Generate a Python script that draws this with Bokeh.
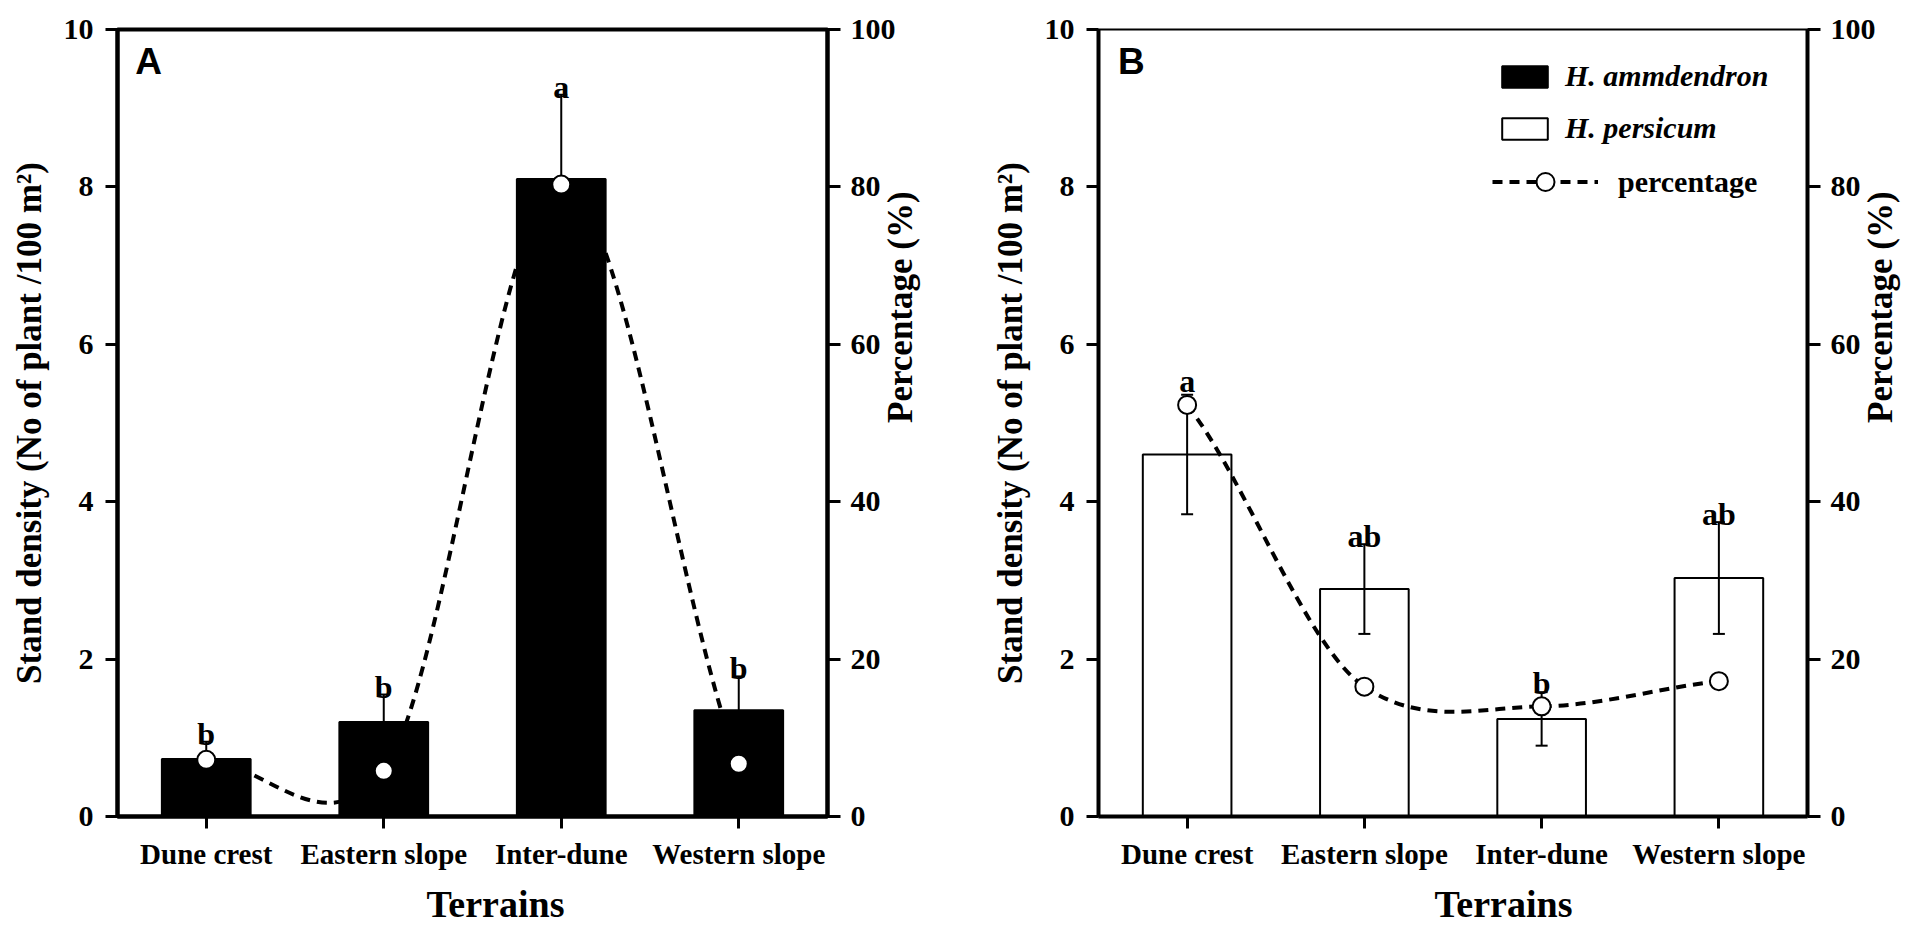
import math
from bokeh.plotting import figure
from bokeh.models import (FactorRange, Range1d, LinearAxis, FixedTicker, ColumnDataSource,
                          Whisker, TeeHead, Label, Legend, LegendItem, Title)
from bokeh.layouts import row
from bokeh.embed import file_html
from bokeh.resources import INLINE
from bokeh.core.properties import value

# ---------------- data ----------------
terrains = ["Dune crest", "Eastern slope", "Inter-dune", "Western slope"]

a_density = [0.73, 1.20, 8.10, 1.35]
a_se = [0.22, 0.35, 1.07, 0.43]
a_pct = [7.2, 5.8, 80.3, 6.7]
a_letters = ["b", "b", "a", "b"]

b_density = [4.60, 2.89, 1.24, 3.03]
b_se = [0.76, 0.57, 0.34, 0.71]
b_pct = [52.3, 16.5, 14.0, 17.2]
b_letters = ["a", "ab", "b", "ab"]

left_ticks = [0, 2, 4, 6, 8, 10]
right_ticks = [0, 20, 40, 60, 80, 100]

SERIF = "Liberation Serif"
SANS = "Liberation Sans"
TENSION = 0.8  # tangent scale of the smoothing curve


def spline_segments(vals):
    """Cubic Bezier segments of a cardinal spline through the points
    (factor synthetic coordinate i+0.5, value)."""
    n = len(vals)
    xs = [i + 0.5 for i in range(n)]
    m = []
    for i in range(n):
        if i == 0:
            m.append(TENSION * (vals[1] - vals[0]))
        elif i == n - 1:
            m.append(TENSION * (vals[-1] - vals[-2]))
        else:
            m.append(TENSION * (vals[i + 1] - vals[i - 1]) / 2.0)
    d = dict(x0=[], y0=[], x1=[], y1=[], cx0=[], cy0=[], cx1=[], cy1=[])
    for i in range(n - 1):
        d["x0"].append(xs[i]); d["y0"].append(vals[i])
        d["x1"].append(xs[i + 1]); d["y1"].append(vals[i + 1])
        d["cx0"].append(xs[i] + 1 / 3); d["cy0"].append(vals[i] + m[i] / 3)
        d["cx1"].append(xs[i + 1] - 1 / 3); d["cy1"].append(vals[i + 1] - m[i + 1] / 3)
    return d


def style_axis(ax, tick_out, standoff, size):
    ax.axis_line_width = 4
    ax.axis_line_color = "black"
    ax.major_tick_line_width = 3
    ax.major_tick_line_color = "black"
    ax.major_tick_out = tick_out
    ax.major_tick_in = 0
    ax.minor_tick_line_color = None
    ax.major_label_text_font = SERIF
    ax.major_label_text_font_style = "bold"
    ax.major_label_text_font_size = size
    ax.major_label_text_color = "black"
    ax.major_label_standoff = standoff
    ax.axis_label_text_font = SERIF
    ax.axis_label_text_font_style = "bold"
    ax.axis_label_text_font_size = "35px"
    ax.axis_label_text_color = "black"


def make_panel(density, se, pct, letters, tag, filled, width, bl, br,
               outline_w, terr_offset, tag_x):
    p = figure(x_range=FactorRange(factors=terrains), y_range=Range1d(0, 10),
               width=width, height=932, output_backend="svg", toolbar_location=None,
               min_border_left=bl, min_border_right=br,
               min_border_top=29, min_border_bottom=114)
    p.extra_y_ranges = {"pct": Range1d(0, 100)}
    p.xgrid.grid_line_color = None
    p.ygrid.grid_line_color = None
    p.outline_line_color = "black"
    p.outline_line_width = outline_w
    p.background_fill_color = "white"
    p.border_fill_color = "white"

    # x axis
    xa = p.xaxis[0]
    style_axis(xa, 12, 9, "29px")

    # left axis
    ya = p.yaxis[0]
    ya.ticker = FixedTicker(ticks=left_ticks)
    style_axis(ya, 12, 12, "30px")
    ya.axis_label = "Stand density (No of plant /100 m²)"
    ya.axis_label_standoff = 12

    # right axis
    ra = LinearAxis(y_range_name="pct", ticker=FixedTicker(ticks=right_ticks))
    style_axis(ra, 13, 10, "30px")
    ra.axis_label = "Percentage (%)"
    ra.axis_label_standoff = 2
    try:
        ra.axis_label_orientation = math.pi / 2
    except Exception:
        pass
    p.add_layout(ra, "right")

    # x axis title, placed a little right of centre as in the original
    p.add_layout(Title(text="Terrains", align="left", offset=terr_offset,
                       text_font=SERIF, text_font_style="bold", text_font_size="38px",
                       text_color="black", standoff=16), "below")

    upper = [d + s for d, s in zip(density, se)]
    lower = [d - s for d, s in zip(density, se)]
    label_y = [max(u, v / 10 + 0.2) for u, v in zip(upper, pct)]
    src = ColumnDataSource(dict(x=terrains, top=density, upper=upper, lower=lower,
                                pct=pct, letter=letters, ly=label_y))

    # dashed smooth percentage line
    seg = ColumnDataSource(spline_segments(pct))
    p.bezier(x0="x0", y0="y0", x1="x1", y1="y1", cx0="cx0", cy0="cy0",
             cx1="cx1", cy1="cy1", source=seg, y_range_name="pct",
             line_color="black", line_width=4, line_dash="10 7")

    # error bars
    wk = Whisker(source=src, base="x", upper="upper", lower="lower",
                 dimension="height", line_color="black", line_width=2,
                 upper_head=TeeHead(size=12, line_width=2, line_color="black"),
                 lower_head=TeeHead(size=12, line_width=2, line_color="black"))
    p.add_layout(wk)

    bars = p.vbar(x="x", top="top", width=0.5, source=src,
                  fill_color="black" if filled else None,
                  line_color="black", line_width=2)

    circ = p.scatter(x="x", y="pct", source=src, y_range_name="pct", marker="circle",
                     size=18, fill_color="white", line_color="black", line_width=2)

    p.text(x="x", y="ly", text="letter", source=src,
           text_font=value(SERIF), text_font_style="bold", text_font_size="32px",
           text_align="center", text_baseline="alphabetic", y_offset=-8,
           text_color="black")

    p.add_layout(Label(x=tag_x, y=9.86, text=tag, text_font=SANS,
                       text_font_style="bold", text_font_size="37px",
                       text_baseline="top", text_align="left", text_color="black"))
    return p, bars, circ, src


pA, barsA, circA, srcA = make_panel(a_density, a_se, a_pct, a_letters, "A", True,
                                    981, 117, 154, 4, 309, 0.1)
pB, barsB, circB, srcB = make_panel(b_density, b_se, b_pct, b_letters, "B", False,
                                    941, 117, 113, 2, 336, 0.11)

# legend (panel B): swatch renderers kept hidden, legend shows them anyway
dummy_black = pB.vbar(x="x", top="top", width=0.5, source=srcB, fill_color="black",
                      line_color="black", line_width=2, visible=False)
dummy_line = pB.line(x="x", y="pct", source=srcB, y_range_name="pct",
                     line_color="black", line_width=4, line_dash="10 7", visible=False)

leg1 = Legend(items=[LegendItem(label="H. ammdendron", renderers=[dummy_black]),
                     LegendItem(label="H. persicum", renderers=[barsB])],
              location=(398, 671), glyph_width=57, glyph_height=27, label_standoff=12,
              spacing=18, padding=0, margin=0, border_line_alpha=0,
              background_fill_alpha=0, inactive_fill_alpha=0, label_text_font=SERIF,
              label_text_font_style="bold italic", label_text_font_size="30px",
              label_text_color="black", click_policy="none")
leg2 = Legend(items=[LegendItem(label="percentage", renderers=[dummy_line, circB])],
              location=(394, 612), glyph_width=106, glyph_height=45, label_standoff=20,
              padding=0, margin=0, border_line_alpha=0, background_fill_alpha=0,
              inactive_fill_alpha=0,
              label_text_font=SERIF, label_text_font_style="bold",
              label_text_font_size="30px", label_text_color="black")
pB.add_layout(leg1, "center")
pB.add_layout(leg2, "center")

layout = row(pA, pB)
open("out.html", "w").write(file_html(layout, INLINE))
